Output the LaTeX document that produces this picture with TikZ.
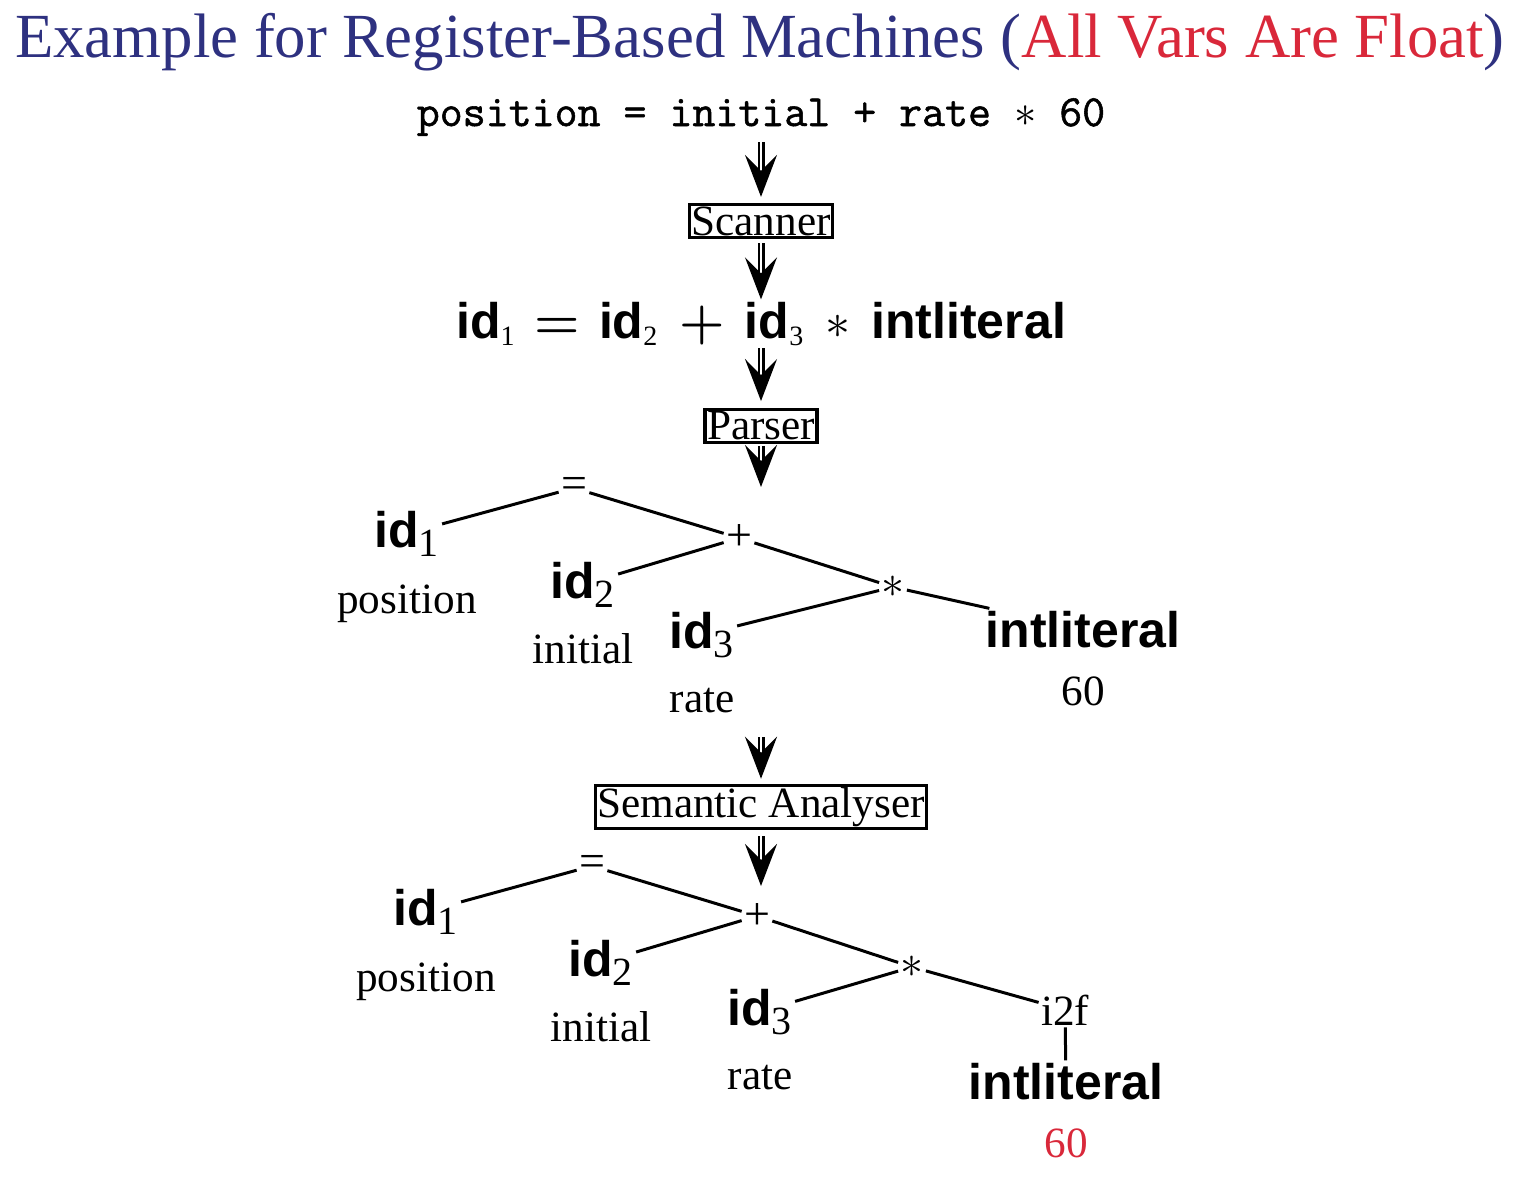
\RequirePackage{fix-cm}
\documentclass[tikz,border=0pt]{standalone}
\usepackage{fontspec}
\setmainfont{Liberation Serif}
\setsansfont{Liberation Sans}
\newfontfamily\srcfont{Latin Modern Mono}[FakeBold=1.2]
\usetikzlibrary{arrows.meta,positioning}
\definecolor{ttlblue}{RGB}{46,49,128}
\definecolor{ttlred}{RGB}{217,40,58}
\newcommand{\idn}[2]{{\sffamily\bfseries id}$_{\mbox{\fontsize{#2}{#2}\selectfont #1}}$}
\newcommand{\lit}{{\sffamily\bfseries intliteral}}
\newcommand{\bigsym}[1]{{\fontsize{26}{31}\selectfont\boldmath$#1$}}

\begin{document}
\begin{tikzpicture}[x=0.5pt, y=-0.5pt,
  every node/.style={inner sep=1pt, font=\fontsize{21.6}{26}\selectfont},
  stage/.style={draw, line width=1.6pt},
  op/.style={font=\fontsize{23}{28}\selectfont},
  leaf/.style={anchor=base, font=\fontsize{25}{30}\selectfont},
  val/.style={anchor=base},
  edge/.style={line width=1.5pt},
  dbl/.style={double, double distance=1.1pt, line width=1.2pt, -{Stealth[length=21pt,width=16pt,inset=8pt]}}]
\useasboundingbox (0,0) rectangle (1522,1178);
\node[anchor=base, font=\fontsize{31.4}{37}\selectfont, text=ttlblue] (title) at (760,57) {Example for Register-Based Machines (\textcolor{ttlred}{All Vars Are Float})};
\node[anchor=base, font=\fontsize{22.3}{26}\selectfont\srcfont] (src) at (761,126) {position = initial + rate $\ast$ 60};
\node[stage] (scan) at (761,221) {Scanner};
\node[leaf] (tok) at (761,338) {\idn{1}{14}\hspace{9.5pt}\bigsym{=}\hspace{9.5pt}\idn{2}{14}\hspace{10.5pt}\bigsym{+}\hspace{10pt}\idn{3}{14}\hspace{10.5pt}$\ast$\hspace{10.5pt}\lit};
\node[stage] (pars) at (761,426) {Parser};
\node[stage] (sem) at (761,807) {Semantic Analyser};
\coordinate (p4) at (761,487);
\coordinate (p5) at (761,737);
\coordinate (p6) at (761,886);
\draw[dbl, shorten <=2pt, shorten >=3pt] (src) -- (scan);
\draw[dbl, shorten <=2pt] (scan) -- (tok);
\draw[dbl, shorten >=3.5pt] (tok) -- (pars);
\draw[dbl, shorten <=1pt] (pars) -- (p4);
\draw[dbl, shorten >=2.5pt] (p5) -- (sem);
\draw[dbl, shorten <=3pt] (sem) -- (p6);

\node[op] (eqA) at (574,488) {=};
\node[op] (plA) at (739,538) {+};
\node[op] (stA) at (893,587) {$\ast$};
\node[leaf] (i1A) at (407,547) {\idn{1}{20}};
\node[leaf] (i2A) at (583,598) {\idn{2}{20}};
\node[leaf] (i3A) at (702,648) {\idn{3}{20}};
\node[leaf] (litA) at (1083,647) {\lit};
\node[below=33pt of i1A.base, val] (v1A) {position};
\node[below=32.5pt of i2A.base, val] (v2A) {initial};
\node[below=32pt of i3A.base, val] (v3A) {rate};
\node[below=29pt of litA.base, val] (v4A) {60};
\draw[edge] (eqA) -- (i1A);
\draw[edge] (eqA) -- (plA);
\draw[edge] (plA) -- (i2A);
\draw[edge] (plA) -- (stA);
\draw[edge] (stA) -- (i3A);
\draw[edge] (stA) -- (litA);

\node[op] (eqB) at (592,866) {=};
\node[op] (plB) at (757,916) {+};
\node[op] (stB) at (912,967) {$\ast$};
\node[leaf] (i1B) at (426,925) {\idn{1}{20}};
\node[leaf] (i2B) at (601,976) {\idn{2}{20}};
\node[leaf] (i3B) at (760,1025) {\idn{3}{20}};
\node[val] (cnv) at (1065,1025) {i2f};
\node[leaf] (litB) at (1066,1099) {\lit};
\node[below=33pt of i1B.base, val] (v1B) {position};
\node[below=32.5pt of i2B.base, val] (v2B) {initial};
\node[below=32pt of i3B.base, val] (v3B) {rate};
\node[below=29pt of litB.base, val, text=ttlred] (v4B) {60};
\draw[edge] (eqB) -- (i1B);
\draw[edge] (eqB) -- (plB);
\draw[edge] (plB) -- (i2B);
\draw[edge] (plB) -- (stB);
\draw[edge] (stB) -- (i3B);
\draw[edge] (stB) -- (cnv);
\draw[edge] (cnv) -- (litB);
\end{tikzpicture}
\end{document}
